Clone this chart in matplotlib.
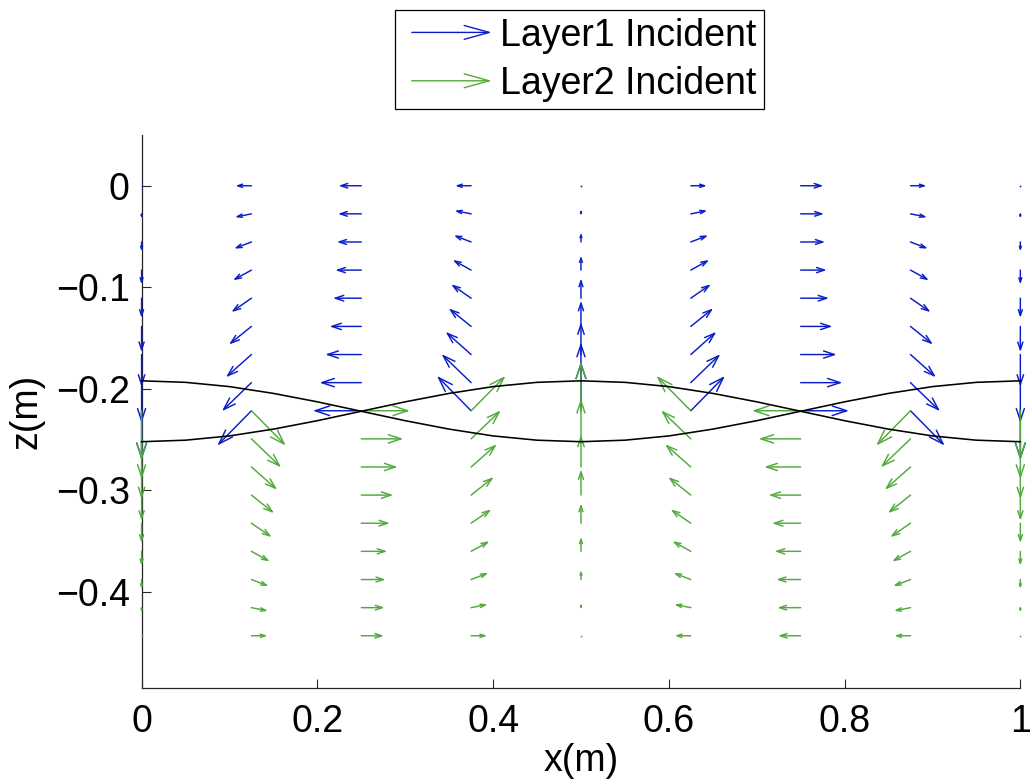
import numpy as np
import matplotlib
matplotlib.use('Agg')
import matplotlib.pyplot as plt
from matplotlib.patches import FancyArrowPatch, ArrowStyle
from matplotlib.lines import Line2D
from matplotlib.legend_handler import HandlerBase

plt.rcParams['font.family'] = ['Liberation Sans', 'DejaVu Sans']

# ---------------- data ----------------
x_cols = [0.0, 0.125, 0.25, 0.375, 0.5, 0.625, 0.75, 0.875, 1.0]
z_layer1 = [0.0, -0.0277, -0.0554, -0.0831, -0.1108, -0.1386, -0.1663, -0.1940, -0.2217]
z_layer2 = [-0.2217, -0.2494, -0.2771, -0.3048, -0.3325, -0.3602, -0.3880, -0.4157, -0.4434]

# Layer 1 (incident) horizontal / vertical components (rows = z_layer1, cols = x_cols)
u_layer1 = [
    [0, -0.0182, -0.0258, -0.0182, 0, 0.0182, 0.0258, 0.0182, 0],
    [0, -0.0187, -0.0265, -0.0187, 0, 0.0187, 0.0265, 0.0187, 0],
    [0, -0.0196, -0.0277, -0.0196, 0, 0.0196, 0.0277, 0.0196, 0],
    [0, -0.0209, -0.0296, -0.0209, 0, 0.0209, 0.0296, 0.0209, 0],
    [0, -0.0228, -0.0322, -0.0228, 0, 0.0228, 0.0322, 0.0228, 0],
    [0, -0.0255, -0.0361, -0.0255, 0, 0.0255, 0.0361, 0.0255, 0],
    [0, -0.0290, -0.0410, -0.0290, 0, 0.0290, 0.0410, 0.0290, 0],
    [0, -0.0336, -0.0475, -0.0336, 0, 0.0336, 0.0475, 0.0336, 0],
    [0, -0.0389, -0.0550, -0.0389, 0, 0.0389, 0.0550, 0.0389, 0],
]
w_layer1 = [
    [0, 0, 0, 0, 0, 0, 0, 0, 0],
    [-0.0045, -0.0032, 0, 0.0032, 0.0045, 0.0032, 0, -0.0032, -0.0045],
    [-0.0092, -0.0065, 0, 0.0065, 0.0092, 0.0065, 0, -0.0065, -0.0092],
    [-0.0141, -0.0100, 0, 0.0100, 0.0141, 0.0100, 0, -0.0100, -0.0141],
    [-0.0194, -0.0137, 0, 0.0137, 0.0194, 0.0137, 0, -0.0137, -0.0194],
    [-0.0252, -0.0178, 0, 0.0178, 0.0252, 0.0178, 0, -0.0178, -0.0252],
    [-0.0317, -0.0224, 0, 0.0224, 0.0317, 0.0224, 0, -0.0224, -0.0317],
    [-0.0397, -0.0281, 0, 0.0281, 0.0397, 0.0281, 0, -0.0281, -0.0397],
    [-0.0485, -0.0343, 0, 0.0343, 0.0485, 0.0343, 0, -0.0343, -0.0485],
]

# Layer 2 (incident) components (rows = z_layer2, cols = x_cols)
u_layer2 = [
    [0, 0.0391, 0.0553, 0.0391, 0, -0.0391, -0.0553, -0.0391, 0],
    [0, 0.0338, 0.0478, 0.0338, 0, -0.0338, -0.0478, -0.0338, 0],
    [0, 0.0293, 0.0414, 0.0293, 0, -0.0293, -0.0414, -0.0293, 0],
    [0, 0.0257, 0.0364, 0.0257, 0, -0.0257, -0.0364, -0.0257, 0],
    [0, 0.0230, 0.0326, 0.0230, 0, -0.0230, -0.0326, -0.0230, 0],
    [0, 0.0209, 0.0296, 0.0209, 0, -0.0209, -0.0296, -0.0209, 0],
    [0, 0.0196, 0.0277, 0.0196, 0, -0.0196, -0.0277, -0.0196, 0],
    [0, 0.0187, 0.0265, 0.0187, 0, -0.0187, -0.0265, -0.0187, 0],
    [0, 0.0182, 0.0258, 0.0182, 0, -0.0182, -0.0258, -0.0182, 0],
]
w_layer2 = [
    [-0.0485, -0.0343, 0, 0.0343, 0.0485, 0.0343, 0, -0.0343, -0.0485],
    [-0.0397, -0.0281, 0, 0.0281, 0.0397, 0.0281, 0, -0.0281, -0.0397],
    [-0.0317, -0.0224, 0, 0.0224, 0.0317, 0.0224, 0, -0.0224, -0.0317],
    [-0.0252, -0.0178, 0, 0.0178, 0.0252, 0.0178, 0, -0.0178, -0.0252],
    [-0.0194, -0.0137, 0, 0.0137, 0.0194, 0.0137, 0, -0.0137, -0.0194],
    [-0.0141, -0.0100, 0, 0.0100, 0.0141, 0.0100, 0, -0.0100, -0.0141],
    [-0.0092, -0.0065, 0, 0.0065, 0.0092, 0.0065, 0, -0.0065, -0.0092],
    [-0.0045, -0.0032, 0, 0.0032, 0.0045, 0.0032, 0, -0.0032, -0.0045],
    [0, 0, 0, 0, 0, 0, 0, 0, 0],
]

# interface curves
curve_x = [0.0, 0.05, 0.1, 0.15, 0.2, 0.25, 0.3, 0.35, 0.4, 0.45, 0.5,
           0.55, 0.6, 0.65, 0.7, 0.75, 0.8, 0.85, 0.9, 0.95, 1.0]
curve_a = [-0.1922, -0.1937, -0.1979, -0.2046, -0.2129, -0.2222, -0.2315, -0.2398, -0.2465, -0.2507, -0.2522,
           -0.2507, -0.2465, -0.2398, -0.2315, -0.2222, -0.2129, -0.2046, -0.1979, -0.1937, -0.1922]
curve_b = [-0.2522, -0.2507, -0.2465, -0.2398, -0.2315, -0.2222, -0.2129, -0.2046, -0.1979, -0.1937, -0.1922,
           -0.1937, -0.1979, -0.2046, -0.2129, -0.2222, -0.2315, -0.2398, -0.2465, -0.2507, -0.2522]

x_ticks = [0, 0.2, 0.4, 0.6, 0.8, 1.0]
x_tick_labels = ['0', '0.2', '0.4', '0.6', '0.8', '1']
z_ticks = [0, -0.1, -0.2, -0.3, -0.4]
z_tick_labels = ['0', '\u22120.1', '\u22120.2', '\u22120.3', '\u22120.4']

labels = ['Layer1 Incident', 'Layer2 Incident']
BLUE = '#0a1ec8'
GREEN = '#52aa3e'
FS = 27

# ---------------- figure ----------------
fig = plt.figure(figsize=(10.32, 7.84), dpi=100)
ax = fig.add_axes([0.1372, 0.1228, 0.8515, 0.705])
ax.set_xlim(0, 1)
ax.set_ylim(-0.4946, 0.05)

for s in ['top', 'right']:
    ax.spines[s].set_visible(False)
for s in ['left', 'bottom']:
    ax.spines[s].set_linewidth(0.9)
    ax.spines[s].set_color('#262626')

ax.set_xticks(x_ticks)
ax.set_xticklabels(x_tick_labels)
ax.set_yticks(z_ticks)
ax.set_yticklabels(z_tick_labels)
ax.tick_params(direction='in', length=6.3, width=0.8, labelsize=FS, color='#262626')
ax.tick_params(axis='x', pad=12)
ax.tick_params(axis='y', pad=8.5)
ax.set_xlabel('x(m)', fontsize=FS, labelpad=2)
ax.set_ylabel('z(m)', fontsize=FS, labelpad=8)


def draw_field(xs, zs, U, W, color, zorder):
    for i, z in enumerate(zs):
        for j, x in enumerate(xs):
            u = U[i][j]
            w = W[i][j]
            p0 = ax.transData.transform((x, z))
            p1 = ax.transData.transform((x + u, z + w))
            L = np.hypot(*(p1 - p0)) * 72.0 / fig.dpi
            if L < 0.5:
                ax.plot([x], [z], marker='o', ms=1.3, mew=0, color=color,
                        clip_on=False, zorder=zorder)
                continue
            style = ArrowStyle('->', head_length=0.3 * L, head_width=0.1 * L)
            arr = FancyArrowPatch((x, z), (x + u, z + w), arrowstyle=style,
                                  mutation_scale=1, color=color, lw=1.05,
                                  shrinkA=0, shrinkB=0, clip_on=False,
                                  zorder=zorder)
            ax.add_patch(arr)


draw_field(x_cols, z_layer1, u_layer1, w_layer1, BLUE, 3)
draw_field(x_cols, z_layer2, u_layer2, w_layer2, GREEN, 4)

ax.plot(curve_x, curve_a, color='black', lw=1.15, zorder=5, clip_on=False)
ax.plot(curve_x, curve_b, color='black', lw=1.15, zorder=5, clip_on=False)


class HandlerArrow(HandlerBase):
    def create_artists(self, legend, orig_handle, xdescent, ydescent,
                       width, height, fontsize, trans):
        y = height / 2.0 - ydescent
        x1 = width - xdescent
        x0 = x1 - 57.6
        p = FancyArrowPatch((x0, y), (x1, y),
                            arrowstyle=ArrowStyle('->', head_length=18, head_width=5),
                            mutation_scale=1, color=orig_handle.get_color(),
                            lw=1.0, shrinkA=0, shrinkB=0, transform=trans)
        return [p]


handles = [Line2D([], [], color=BLUE, label=labels[0]),
           Line2D([], [], color=GREEN, label=labels[1])]
leg = fig.legend(handles=handles, loc='upper center',
                 bbox_to_anchor=(0.5615, 0.9872), bbox_transform=fig.transFigure,
                 frameon=True, fancybox=False, edgecolor='black', framealpha=1,
                 fontsize=FS, handlelength=2.38, handletextpad=0.22,
                 borderpad=0.2, labelspacing=0.33, borderaxespad=0,
                 handler_map={Line2D: HandlerArrow()})
leg.get_frame().set_linewidth(0.9)

fig.savefig('out.png', dpi=100)
